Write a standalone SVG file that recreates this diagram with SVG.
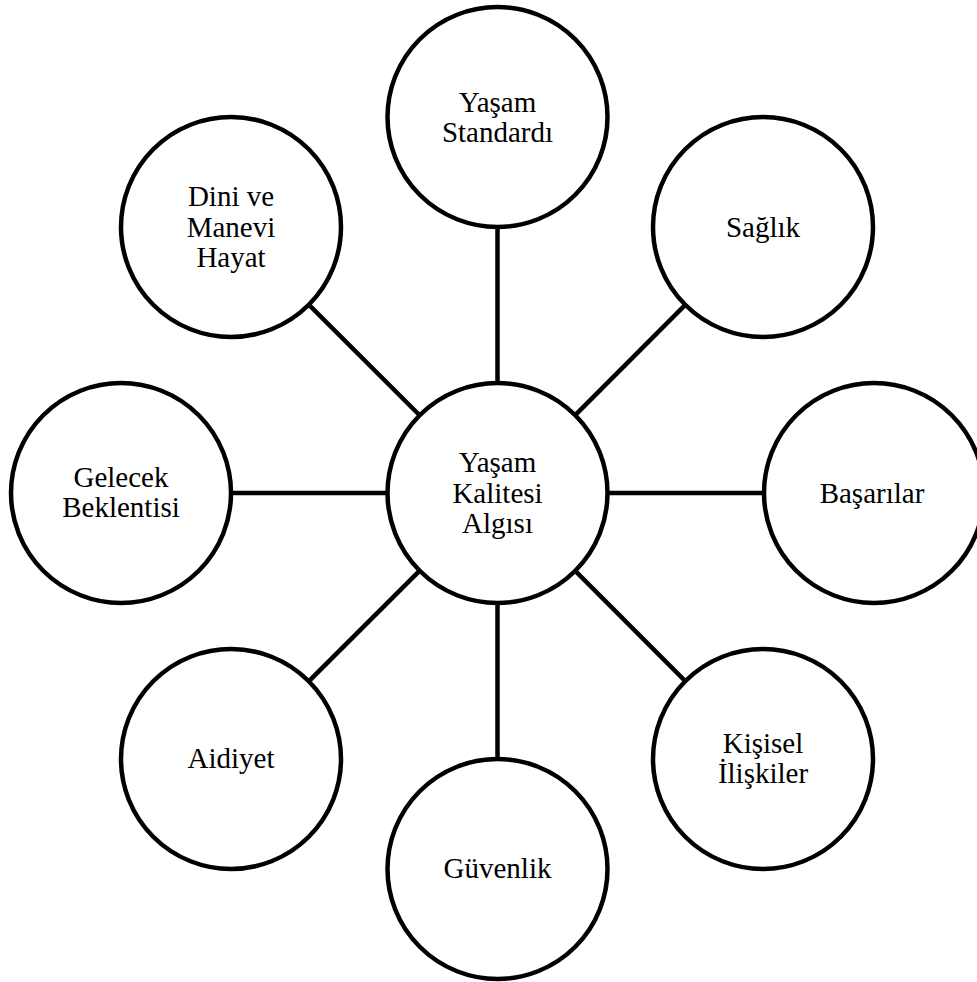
<svg xmlns="http://www.w3.org/2000/svg" width="977" height="982" viewBox="0 0 977 982">
<style>
.n{fill:#fff;stroke:#000;stroke-width:4.5}
.e{stroke:#000;stroke-width:4.5}
text{font-family:"Liberation Serif","Times New Roman",serif;font-size:29px;fill:#000;text-anchor:middle}
</style>
<rect width="977" height="982" fill="#fff"/>
<g id="connectors">
<line class="e" x1="497.5" y1="493" x2="497.5" y2="117"/>
<line class="e" x1="497.5" y1="493" x2="497.5" y2="869"/>
<line class="e" x1="497.5" y1="493" x2="121" y2="493"/>
<line class="e" x1="497.5" y1="493" x2="874" y2="493"/>
<line class="e" x1="497.5" y1="493" x2="763" y2="227"/>
<line class="e" x1="497.5" y1="493" x2="763" y2="759"/>
<line class="e" x1="497.5" y1="493" x2="231" y2="227"/>
<line class="e" x1="497.5" y1="493" x2="231" y2="759"/>
</g>
<g id="center">
<circle class="n" cx="497.5" cy="493" r="110"/>
<text x="497.5" y="472">Yaşam</text>
<text x="497.5" y="503">Kalitesi</text>
<text x="497.5" y="533">Algısı</text>
</g>
<g id="yasam-standardi">
<circle class="n" cx="497.5" cy="117" r="110"/>
<text x="497.5" y="111.5">Yaşam</text>
<text x="497.5" y="142">Standardı</text>
</g>
<g id="saglik">
<circle class="n" cx="763" cy="227" r="110"/>
<text x="763" y="237">Sağlık</text>
</g>
<g id="basarilar">
<circle class="n" cx="874" cy="493" r="110"/>
<text x="872" y="503">Başarılar</text>
</g>
<g id="kisisel-iliskiler">
<circle class="n" cx="763" cy="759" r="110"/>
<text x="763" y="753">Kişisel</text>
<text x="763" y="783">İlişkiler</text>
</g>
<g id="guvenlik">
<circle class="n" cx="497.5" cy="869" r="110"/>
<text x="497.5" y="878">Güvenlik</text>
</g>
<g id="aidiyet">
<circle class="n" cx="231" cy="759" r="110"/>
<text x="231" y="768">Aidiyet</text>
</g>
<g id="gelecek-beklentisi">
<circle class="n" cx="121" cy="493" r="110"/>
<text x="121" y="487">Gelecek</text>
<text x="121" y="517">Beklentisi</text>
</g>
<g id="dini-manevi-hayat">
<circle class="n" cx="231" cy="227" r="110"/>
<text x="231" y="206">Dini ve</text>
<text x="231" y="237">Manevi</text>
<text x="231" y="267">Hayat</text>
</g>
</svg>
